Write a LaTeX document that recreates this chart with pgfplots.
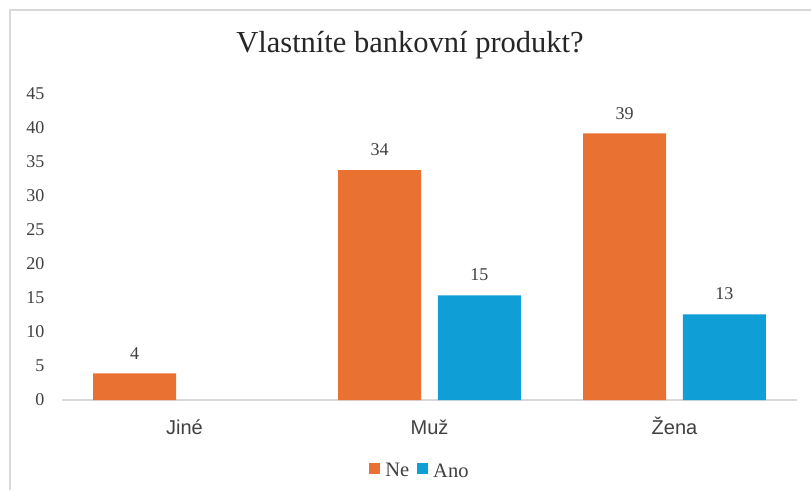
\documentclass[border=0pt]{standalone}
\usepackage{pgfplots}
\pgfplotsset{compat=1.18}
\usepackage{fontspec}
\setmainfont{Liberation Serif}
\newfontfamily\arial{Liberation Sans}
\definecolor{cNe}{HTML}{E97132}
\definecolor{cAno}{HTML}{0F9ED5}
\definecolor{txt}{HTML}{404040}
\definecolor{frame}{HTML}{D9D9D9}
\begin{document}
\begin{tikzpicture}[x=1pt,y=1pt]
\fill[white] (0,0) rectangle (811,490);
\useasboundingbox (0,0) rectangle (811,490);
\draw[frame, line width=2pt] (10,0) -- (10,480) -- (811,480);
\node[anchor=base, font=\fontsize{30.5}{30.5}\selectfont, text=black!85] at (410,437) {Vlastníte bankovní produkt?};
\begin{axis}[
  at={(62pt,90pt)}, anchor=south west,
  scale only axis, width=735pt, height=306pt,
  xmin=-0.5, xmax=2.5, ymin=0, ymax=45,
  ytick={0,5,...,45},
  xtick={0,1,2}, xticklabels={Jiné,Muž,Žena},
  ybar=16.6pt, bar width=83pt,
  axis x line*=bottom, axis y line*=left,
  x axis line style={draw=frame, line width=1.5pt, -},
  y axis line style={draw=none},
  tick style={draw=none},
  /pgf/number format/assume math mode=true,
  yticklabel style={font=\fontsize{18}{18}\selectfont, text=txt, anchor=east, xshift=-14pt},
  xticklabel style={font=\arial\fontsize{20}{20}\selectfont, text=txt, anchor=base, yshift=-30pt},
  nodes near coords={\pgfmathprintnumber[fixed,precision=0]{\pgfplotspointmeta}},
  nodes near coords style={font=\fontsize{18}{18}\selectfont, text=txt, inner sep=0pt, anchor=south, yshift=14pt},
  legend columns=2,
  legend style={draw=none, fill=none, at={(0.487,-0.232)}, anchor=center,
    font=\fontsize{20.5}{20.5}\selectfont, text=txt,
    /tikz/every even column/.append style={column sep=6pt}},
  legend image code/.code={\fill[#1, draw=none] (0pt,-3pt) rectangle (11pt,8pt); \path (0pt,0pt) -- (14pt,0pt);},
]
\addplot[fill=cNe, draw=none] coordinates {(0,3.9) (1,33.8) (2,39.2)};
\addplot[fill=cAno, draw=none] coordinates {(1,15.4) (2,12.6)};
\legend{Ne,Ano}
\end{axis}
\end{tikzpicture}
\end{document}
